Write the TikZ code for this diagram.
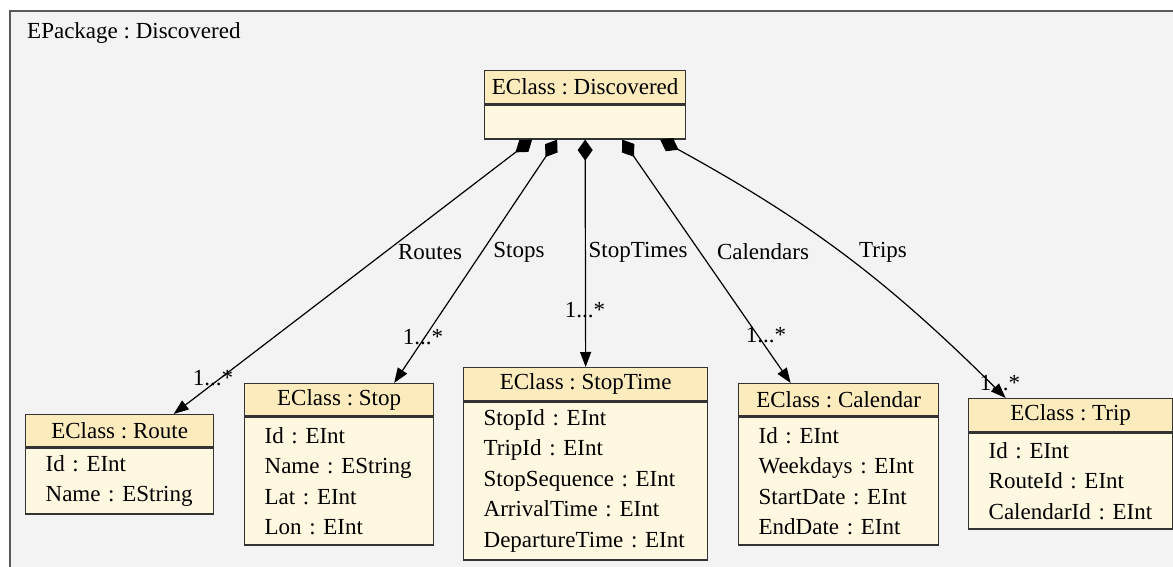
\documentclass[tikz,border=0pt]{standalone}
\usepackage{fontspec}
\setmainfont{Liberation Serif}
\newfontfamily\umlserif{Liberation Serif}
\usetikzlibrary{arrows.meta}

\definecolor{pkgbg}{HTML}{F3F3F3}
\definecolor{hdrfill}{HTML}{FCEBBD}
\definecolor{bodyfill}{HTML}{FFF8E1}
\definecolor{framegray}{HTML}{5A5A5A}
\definecolor{boxline}{HTML}{333333}

\tikzset{
  lbl/.style={font=\umlserif\fontsize{23}{26}\selectfont, inner sep=0pt},
  hdr/.style={draw=boxline, line width=1.3pt, fill=hdrfill, anchor=north west,
              inner sep=0pt, font=\umlserif\fontsize{23}{26}\selectfont},
  attrs/.style={draw=boxline, line width=1.3pt, fill=bodyfill, anchor=north west,
                inner xsep=20pt, inner ysep=0pt, align=left,
                font=\umlserif\fontsize{23}{30.5}\selectfont},
  comp/.style={line width=1.2pt,
               {Diamond[length=21pt,width=15pt]}-{Triangle[length=15pt,width=11pt]}},
}

% name, left x, top y, width, header height, body height, title, attribute rows
\newcommand\umlclass[8]{%
  \pgfmathsetmacro\attrw{#4-40}%
  \node[hdr, minimum width=#4pt, minimum height=#5pt] (#1) at (#2,#3) {#7};
  \node[attrs, text width=\attrw pt, minimum height=#6pt] (#1-attrs) at (#1.south west) {#8};
}

\begin{document}
\frenchspacing
\begin{tikzpicture}[x=1pt,y=-1pt]
  \useasboundingbox (0,0) rectangle (1173,567);
  \clip (0,0) rectangle (1173,567);
  \fill[white] (0,0) rectangle (1173,567);

  % package frame
  \draw[framegray, line width=2pt, fill=pkgbg] (10,11) rectangle (1190,590);
  \node[lbl, anchor=west] (pkg) at (27,33) {EPackage : Discovered};

  % classes
  \umlclass{disc}{484}{70}{201}{33}{34}{EClass : Discovered}{}
  \umlclass{route}{25}{414}{188}{32}{66}{EClass : Route}{Id : EInt\\Name : EString}
  \umlclass{stop}{244}{383}{189}{32}{128}{EClass : Stop}{Id : EInt\\Name : EString\\Lat : EInt\\Lon : EInt}
  \umlclass{stoptime}{463}{367}{244}{33}{158}{EClass : StopTime}{StopId : EInt\\TripId : EInt\\StopSequence : EInt\\ArrivalTime : EInt\\DepartureTime : EInt}
  \umlclass{calendar}{738}{383}{200}{32}{128}{EClass : Calendar}{Id : EInt\\Weekdays : EInt\\StartDate : EInt\\EndDate : EInt}
  \umlclass{trip}{968}{398}{204}{33}{96}{EClass : Trip}{Id : EInt\\RouteId : EInt\\CalendarId : EInt}

  % containment references
  \draw[comp] ([xshift=-53pt]disc-attrs.south) -- ([xshift=54pt]route.north);
  \draw[comp] ([xshift=-28pt]disc-attrs.south) -- ([xshift=55pt]stop.north);
  \draw[comp] (disc-attrs.south) -- (stoptime.north);
  \draw[comp] ([xshift=37pt]disc-attrs.south) -- ([xshift=-48pt]calendar.north);
  \draw[comp] ([xshift=75pt]disc-attrs.south) to[bend left=8] ([xshift=-65pt]trip.north);

  % reference names
  \node[lbl] (nRoutes) at (430,252) {Routes};
  \node[lbl] (nStops) at (519,252) {Stops};
  \node[lbl] (nStopTimes) at (638,252) {StopTimes};
  \node[lbl] (nCalendars) at (763,252) {Calendars};
  \node[lbl] (nTrips) at (883,252) {Trips};

  % multiplicities
  \node[lbl] (mRoutes) at (213,378) {1...*};
  \node[lbl] (mStops) at (423,337) {1...*};
  \node[lbl] (mStopTimes) at (585,310) {1...*};
  \node[lbl] (mCalendars) at (766,335) {1...*};
  \node[lbl] (mTrips) at (1000,383) {1...*};
\end{tikzpicture}
\end{document}
